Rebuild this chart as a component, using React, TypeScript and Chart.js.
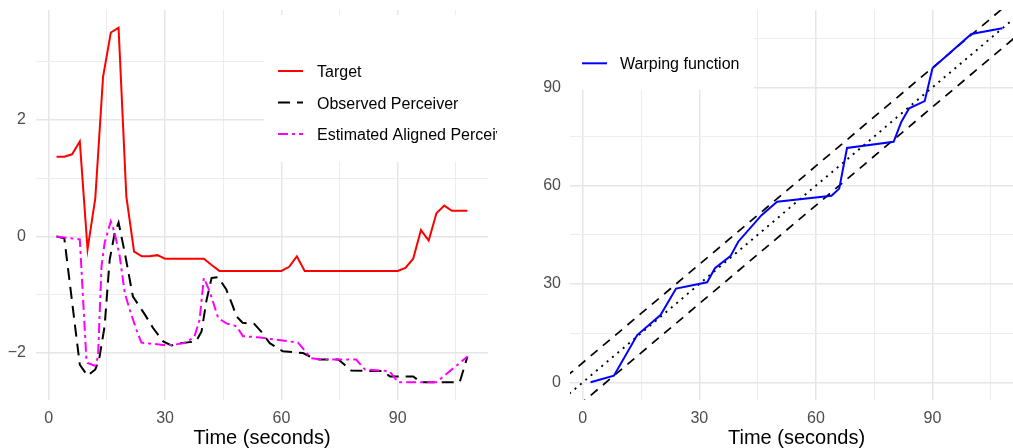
import React, { useEffect, useRef } from "react";
import { Chart, registerables } from "chart.js";

Chart.register(...registerables);

// ---------- data ----------
const targetX = [2, 4, 6, 8, 10, 12, 14, 16, 18, 20, 22, 24, 26, 28, 30, 32, 34, 36, 38, 40, 42, 44, 46, 48, 50, 52, 54, 56, 58, 60, 62, 64, 66, 68, 70, 72, 74, 76, 78, 80, 82, 84, 86, 88, 90, 92, 94, 96, 98, 100, 102, 104, 106, 108];
const targetY = [1.37, 1.37, 1.41, 1.63, -0.22, 0.66, 2.74, 3.5, 3.58, 0.69, -0.26, -0.34, -0.34, -0.32, -0.38, -0.38, -0.38, -0.38, -0.38, -0.38, -0.49, -0.59, -0.59, -0.59, -0.59, -0.59, -0.59, -0.59, -0.59, -0.59, -0.52, -0.34, -0.59, -0.59, -0.59, -0.59, -0.59, -0.59, -0.59, -0.59, -0.59, -0.59, -0.59, -0.59, -0.59, -0.54, -0.38, 0.11, -0.07, 0.4, 0.53, 0.44, 0.44, 0.44];

const observedX = [2, 4, 8, 10, 12, 13, 14.4, 15.7, 17, 18, 19.6, 21.7, 24.8, 26.9, 29.5, 31.6, 33.8, 38, 39.4, 40.7, 42, 43.7, 45.8, 47.5, 48.4, 50, 53, 54.8, 57, 60.4, 65.6, 68.2, 69.9, 74.7, 76.3, 78, 86.2, 88, 94, 96, 106, 108];
const observedY = [0, -0.03, -2.2, -2.39, -2.28, -2.1, -1.54, -0.4, 0.06, 0.24, -0.28, -1.03, -1.34, -1.57, -1.8, -1.87, -1.83, -1.8, -1.63, -1.09, -0.71, -0.7, -0.91, -1.2, -1.37, -1.48, -1.5, -1.63, -1.83, -1.97, -2.0, -2.09, -2.11, -2.11, -2.2, -2.3, -2.31, -2.4, -2.4, -2.5, -2.5, -2.06];

const alignedX = [2, 8, 9.7, 10, 12, 12.7, 13.6, 14.4, 16, 17, 18.3, 19.6, 20.9, 22.6, 23.9, 26.5, 29.5, 32, 35.5, 37.6, 38.9, 40, 41.5, 43.7, 45.8, 48.4, 50.1, 54, 64.3, 67.7, 70.4, 79.3, 81.5, 87.9, 90.1, 100, 108];
const alignedY = [0, -0.05, -2.11, -2.17, -2.22, -2.06, -0.51, -0.11, 0.26, 0.06, -0.34, -0.97, -1.26, -1.6, -1.82, -1.84, -1.86, -1.86, -1.82, -1.71, -1.43, -0.71, -0.94, -1.4, -1.49, -1.54, -1.71, -1.73, -1.82, -2.09, -2.11, -2.11, -2.28, -2.31, -2.5, -2.5, -2.06];

const warpX = [2, 8, 14, 20, 24, 32, 34, 38, 40, 46, 50, 64, 66, 68, 80, 82, 84, 88, 90, 100, 108];
const warpY = [0, 2, 14.4, 20.5, 28.6, 30.5, 34.8, 38.5, 42.9, 51, 55.1, 56.9, 59.1, 71.5, 73.4, 79.5, 83.6, 85.8, 95.8, 106.3, 108];

// reference lines of slope 1 (band and identity)
const ablineIntercepts = [6, 0, -6];
const ablineSpan = [-20, 130];

const timeTicks = [0, 15, 30, 45, 60, 75, 90, 105];
const leftYTicks = [-2, -1, 0, 1, 2, 3];
const rightYTicks = [0, 15, 30, 45, 60, 75, 90, 105];

const legendLeft = ["Target", "Observed Perceiver", "Estimated Aligned Perceiver"];
const legendRight = ["Warping function"];
const xTitle = "Time (seconds)";

// ---------- helpers ----------
const FONT = "'Liberation Sans', Arial, Helvetica, sans-serif";
const pts = (xs: number[], ys: number[]) => xs.map((x, i) => ({ x, y: ys[i] }));
const fmt = (v: number) => (v < 0 ? "\u2212" + Math.abs(v) : String(v));

function gridOpts(isMajor: (v: number) => boolean) {
  return {
    drawTicks: false,
    color: (ctx: any) => (ctx.tick && isMajor(ctx.tick.value) ? "#e6e6e6" : "#ededed"),
    lineWidth: (ctx: any) => (ctx.tick && isMajor(ctx.tick.value) ? 1.5 : 1),
  };
}

type LegendEntry = { label: string; color: string; dash: number[]; lineY: number; textY: number };

function makeOverlay(box: { x: number; y: number; w: number; h: number }, keyX0: number, keyX1: number, textX: number, clipRight: number, entries: LegendEntry[]) {
  return {
    id: "overlay",
    afterDraw(chart: any) {
      const ctx = chart.ctx;
      const ca = chart.chartArea;
      ctx.save();
      ctx.fillStyle = "#ffffff";
      ctx.fillRect(box.x, box.y, box.w, box.h);
      ctx.save();
      ctx.beginPath();
      ctx.rect(0, 0, clipRight, chart.height);
      ctx.clip();
      for (const e of entries) {
        ctx.beginPath();
        ctx.setLineDash(e.dash);
        ctx.lineWidth = 2;
        ctx.strokeStyle = e.color;
        ctx.lineCap = "butt";
        ctx.moveTo(keyX0, e.lineY);
        ctx.lineTo(keyX1, e.lineY);
        ctx.stroke();
        ctx.setLineDash([]);
        ctx.fillStyle = "#000000";
        ctx.font = `16px ${FONT}`;
        ctx.textAlign = "left";
        ctx.textBaseline = "alphabetic";
        ctx.fillText(e.label, textX, e.textY);
      }
      ctx.restore();
      ctx.fillStyle = "#000000";
      ctx.font = `20px ${FONT}`;
      ctx.textAlign = "center";
      ctx.textBaseline = "alphabetic";
      ctx.fillText(xTitle, (ca.left + ca.right) / 2, 444);
      ctx.restore();
    },
  };
}

const noPadY = (w: number) => (s: any) => {
  s.width = w;
  s.paddingTop = 0;
  s.paddingBottom = 0;
};
const noPadX = (h: number) => (s: any) => {
  s.height = h;
  s.paddingLeft = 0;
  s.paddingRight = 0;
};

function timeAxis() {
  return {
    type: "linear",
    min: -3.3,
    max: 113.3,
    afterBuildTicks: (s: any) => { s.ticks = timeTicks.map((v) => ({ value: v })); },
    afterFit: noPadX(48),
    border: { display: false },
    grid: gridOpts((v) => v % 30 === 0),
    ticks: {
      autoSkip: false,
      maxRotation: 0,
      padding: 9,
      color: "#4d4d4d",
      font: { family: FONT, size: 16 },
      callback: (v: any) => (Number(v) % 30 === 0 ? String(v) : ""),
    },
  };
}

function LeftChart() {
  const ref = useRef<HTMLCanvasElement>(null);
  useEffect(() => {
    const chart = new Chart(ref.current as HTMLCanvasElement, {
      type: "line",
      data: {
        datasets: [
          { label: legendLeft[0], data: pts(targetX, targetY), borderColor: "#ff0000", borderWidth: 2, pointRadius: 0, tension: 0, order: 3 },
          { label: legendLeft[1], data: pts(observedX, observedY), borderColor: "#000000", borderWidth: 2, borderDash: [12, 7], pointRadius: 0, tension: 0, order: 2 },
          { label: legendLeft[2], data: pts(alignedX, alignedY), borderColor: "#ff00ff", borderWidth: 2, borderDash: [10, 4, 3, 4], pointRadius: 0, tension: 0, order: 1 },
        ],
      },
      options: {
        animation: false,
        responsive: false,
        events: [],
        layout: { padding: { top: 10, right: 10, left: 0, bottom: 0 } },
        plugins: { legend: { display: false }, tooltip: { enabled: false } },
        scales: {
          x: timeAxis(),
          y: {
            type: "linear",
            min: -2.805,
            max: 3.886,
            afterBuildTicks: (s: any) => { s.ticks = leftYTicks.map((v) => ({ value: v })); },
            afterFit: noPadY(36),
            border: { display: false },
            grid: gridOpts((v) => v % 2 === 0),
            ticks: {
              autoSkip: false,
              padding: 10,
              color: "#4d4d4d",
              font: { family: FONT, size: 16 },
              callback: (v: any) => (Number(v) % 2 === 0 ? fmt(Number(v)) : ""),
            },
          },
        },
      },
      plugins: [
        makeOverlay({ x: 264, y: 15, w: 300, h: 147 }, 278, 303, 317, 497, [
          { label: legendLeft[0], color: "#ff0000", dash: [], lineY: 71, textY: 77 },
          { label: legendLeft[1], color: "#000000", dash: [12, 7], lineY: 102.5, textY: 108.5 },
          { label: legendLeft[2], color: "#ff00ff", dash: [10, 4, 3, 4], lineY: 134, textY: 140 },
        ]),
      ],
    } as any);
    return () => chart.destroy();
  }, []);
  return <canvas ref={ref} width={498} height={448} style={{ position: "absolute", left: 0, top: 0 }} />;
}

function RightChart() {
  const ref = useRef<HTMLCanvasElement>(null);
  useEffect(() => {
    const abDash = [[9, 7], [2, 5], [9, 7]];
    const abWidth = [1.7, 1.9, 1.7];
    const abSets = ablineIntercepts.map((b, i) => ({
      label: "ab" + i,
      data: ablineSpan.map((x) => ({ x, y: x + b })),
      borderColor: "#000000",
      borderWidth: abWidth[i],
      borderDash: abDash[i],
      pointRadius: 0,
      tension: 0,
      order: 2,
    }));
    const chart = new Chart(ref.current as HTMLCanvasElement, {
      type: "line",
      data: {
        datasets: [
          { label: legendRight[0], data: pts(warpX, warpY), borderColor: "#0000ff", borderWidth: 2, pointRadius: 0, tension: 0, order: 1 },
          ...abSets,
        ],
      },
      options: {
        animation: false,
        responsive: false,
        events: [],
        layout: { padding: { top: 10, right: 0, left: 0, bottom: 0 } },
        plugins: { legend: { display: false }, tooltip: { enabled: false } },
        scales: {
          x: timeAxis(),
          y: {
            type: "linear",
            min: -5.4,
            max: 113.6,
            afterBuildTicks: (s: any) => { s.ticks = rightYTicks.map((v) => ({ value: v })); },
            afterFit: noPadY(72),
            border: { display: false },
            grid: gridOpts((v) => v % 30 === 0),
            ticks: {
              autoSkip: false,
              padding: 9,
              color: "#4d4d4d",
              font: { family: FONT, size: 16 },
              callback: (v: any) => (Number(v) % 30 === 0 ? fmt(Number(v)) : ""),
            },
          },
        },
      },
      plugins: [
        makeOverlay({ x: 72, y: 0, w: 184, h: 90 }, 84, 109, 122, 525, [
          { label: legendRight[0], color: "#0000ff", dash: [], lineY: 63.3, textY: 69 },
        ]),
      ],
    } as any);
    return () => chart.destroy();
  }, []);
  return <canvas ref={ref} width={525} height={448} style={{ position: "absolute", left: 498, top: 0 }} />;
}

export default function App() {
  return (
    <div style={{ position: "fixed", left: 0, top: 0, width: 1013, height: 448, overflow: "hidden", background: "#ffffff" }}>
      <LeftChart />
      <RightChart />
    </div>
  );
}
